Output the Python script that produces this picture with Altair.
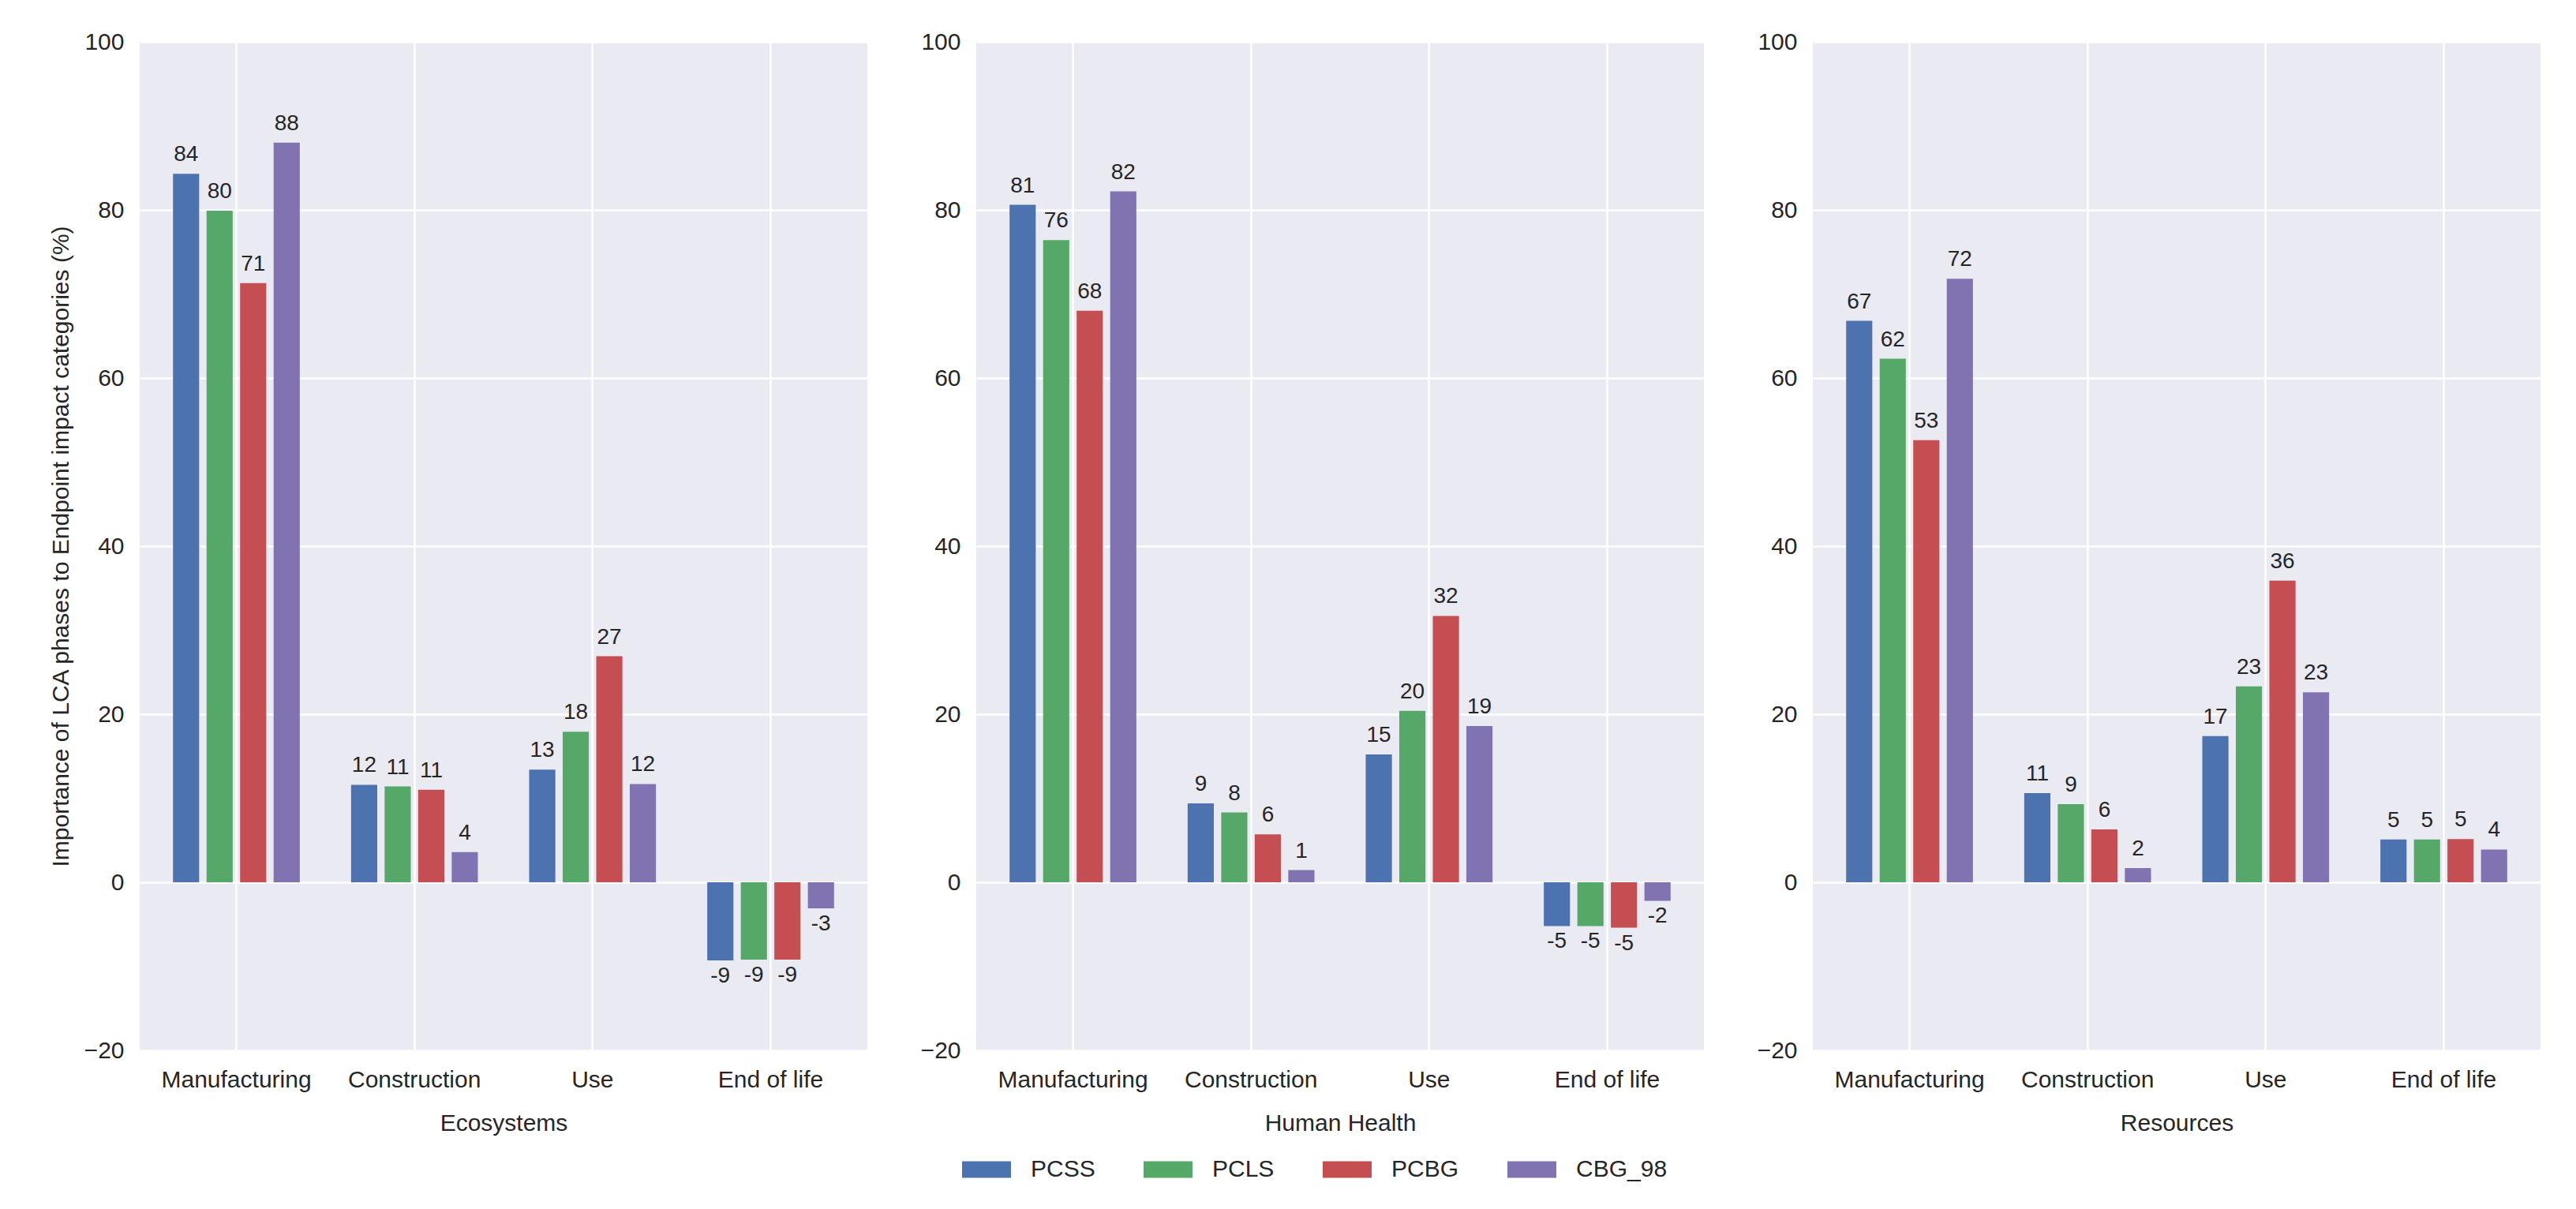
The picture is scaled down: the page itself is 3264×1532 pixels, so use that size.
import altair as alt
import pandas as pd

phases = ["Manufacturing", "Construction", "Use", "End of life"]
series = ["PCSS", "PCLS", "PCBG", "CBG_98"]
colors = ["#4C72B0", "#55A868", "#C44E52", "#8172B2"]
panel_titles = ["Ecosystems", "Human Health", "Resources"]

# values per series, in phase order
eco_pcss = [84.3, 11.6, 13.4, -9.3]
eco_pcls = [79.9, 11.4, 17.9, -9.2]
eco_pcbg = [71.3, 11.0, 26.9, -9.2]
eco_cbg98 = [88.0, 3.6, 11.7, -3.1]

hh_pcss = [80.6, 9.4, 15.2, -5.2]
hh_pcls = [76.4, 8.3, 20.4, -5.2]
hh_pcbg = [68.0, 5.7, 31.7, -5.4]
hh_cbg98 = [82.2, 1.45, 18.6, -2.2]

res_pcss = [66.8, 10.6, 17.4, 5.1]
res_pcls = [62.3, 9.3, 23.3, 5.1]
res_pcbg = [52.6, 6.3, 35.9, 5.15]
res_cbg98 = [71.8, 1.7, 22.6, 3.9]

panel_values = [
    [eco_pcss, eco_pcls, eco_pcbg, eco_cbg98],
    [hh_pcss, hh_pcls, hh_pcbg, hh_cbg98],
    [res_pcss, res_pcls, res_pcbg, res_cbg98],
]

FONT = "Liberation Sans"
TXT = "#262626"


def make_df(vals):
    rows = []
    for s, arr in zip(series, vals):
        for p, v in zip(phases, arr):
            rows.append({"phase": p, "series": s, "value": v})
    return pd.DataFrame(rows)


def panel(vals, title, first):
    df = make_df(vals)
    base = alt.Chart(df)
    x = alt.X(
        "phase:N",
        sort=phases,
        scale=alt.Scale(paddingInner=0.288, paddingOuter=0.187),
        axis=alt.Axis(title=title, labelAngle=0, bandPosition=0.5, grid=True,
                      labelPadding=22, titlePadding=25, labelLimit=500),
    )
    xo = alt.XOffset("series:N", sort=series,
                     scale=alt.Scale(paddingInner=0.22, paddingOuter=0))
    y = alt.Y(
        "value:Q",
        scale=alt.Scale(domain=[-20, 100], nice=False, zero=False),
        axis=alt.Axis(
            values=[-20, 0, 20, 40, 60, 80, 100],
            title="Importance of LCA phases to Endpoint impact categories (%)" if first else None,
            labelPadding=20,
            titlePadding=14,
        ),
    )
    color = alt.Color(
        "series:N",
        sort=series,
        scale=alt.Scale(domain=series, range=colors),
        legend=alt.Legend(
            orient="none",
            legendX=1042,
            legendY=1398,
            direction="horizontal",
            title=None,
            symbolType="M-1,-0.34L1,-0.34L1,0.34L-1,0.34Z",
            symbolSize=3844,
            symbolStrokeWidth=0,
            symbolOpacity=1,
            labelFont=FONT,
            labelFontSize=30,
            labelColor=TXT,
            labelOffset=25,
            columnPadding=61,
            labelLimit=400,
        ),
    )
    bars = base.mark_bar().encode(x=x, xOffset=xo, y=y, color=color)
    pos = (
        base.transform_filter("datum.value >= 0")
        .transform_calculate(lab="'' + round(datum.value)")
        .mark_text(baseline="bottom", dy=-10, fontSize=28, font=FONT, color=TXT)
        .encode(x=x, xOffset=xo, y=y, text="lab:N")
    )
    neg = (
        base.transform_filter("datum.value < 0")
        .transform_calculate(lab="'' + round(datum.value)")
        .mark_text(baseline="top", dy=6, fontSize=28, font=FONT, color=TXT)
        .encode(x=x, xOffset=xo, y=y, text="lab:N")
    )
    return alt.layer(bars, pos, neg).properties(width=922, height=1278)


charts = [panel(v, t, i == 0) for i, (v, t) in enumerate(zip(panel_values, panel_titles))]

chart = (
    alt.hconcat(*charts, spacing=67)
    .resolve_scale(color="shared")
    .properties(padding={"left": 54, "top": 30, "right": 10, "bottom": 10},
                background="white")
    .configure_view(fill="#EAEAF2", strokeWidth=0)
    .configure_axis(
        domain=False,
        ticks=False,
        gridColor="white",
        gridWidth=2.5,
        gridOpacity=1,
        labelFont=FONT,
        labelFontSize=30,
        labelColor=TXT,
        titleFont=FONT,
        titleFontSize=30,
        titleColor=TXT,
        titleFontWeight="normal",
    )
)

chart.save("out.html", embed_options={"renderer": "svg", "actions": False})
